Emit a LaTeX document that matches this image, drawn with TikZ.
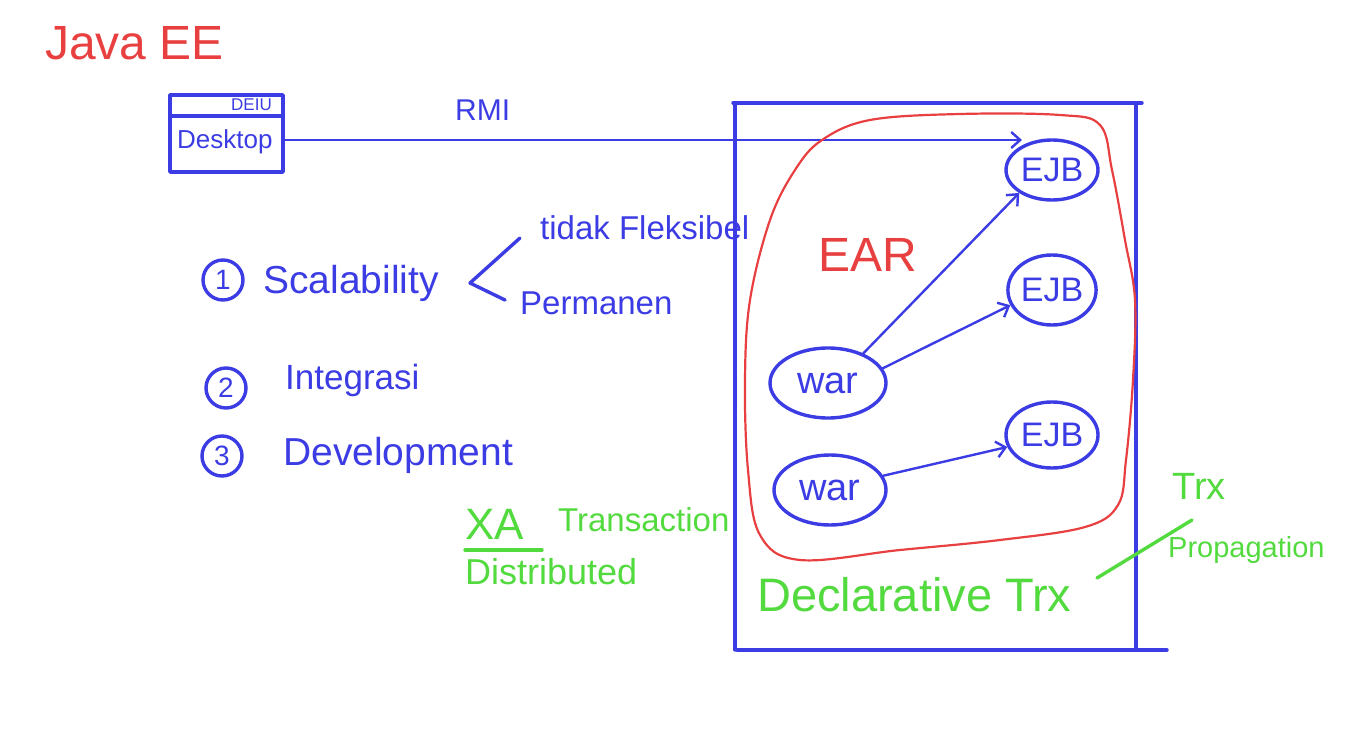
\documentclass[tikz,border=0pt]{standalone}
\usepackage{fontspec}
\setmainfont{Liberation Sans}
\usetikzlibrary{arrows.meta,shapes.geometric}
\definecolor{pblue}{RGB}{60,60,228}
\definecolor{pred}{RGB}{232,64,64}
\definecolor{pgreen}{RGB}{82,218,62}
\tikzset{
  pen/.style={line width=3.4pt,line cap=round,line join=round},
  btext/.style={text=pblue,inner sep=0pt,anchor=west},
  gtext/.style={text=pgreen,inner sep=0pt,anchor=west},
  big/.style={font=\fontsize{39}{41}\selectfont},
  mid/.style={font=\fontsize{33}{35}\selectfont},
  numc/.style={circle,draw=pblue,pen,text=pblue,minimum size=40pt,inner sep=0pt,font=\fontsize{28}{30}\selectfont},
  ejb/.style={ellipse,draw=pblue,pen,text=pblue,inner sep=0pt,font=\fontsize{34}{36}\selectfont},
  arr/.style={line width=2.4pt,line cap=round,draw=pblue,-{Straight Barb[length=9pt,width=16pt]}},
}
\begin{document}
\begin{tikzpicture}[x=1pt,y=-1pt]
\useasboundingbox (0,0) rectangle (1366,746);
% title
\node[text=pred,inner sep=0pt,anchor=west,font=\fontsize{48}{50}\selectfont] (title) at (45,43) {Java EE};
% desktop window
\draw[pblue,pen] (170,95) rectangle (283,172);
\draw[pblue,pen] (172,116) -- (281,116);
\node[btext,font=\fontsize{17}{18}\selectfont] (deiu) at (231,105) {DEIU};
\node[btext,font=\fontsize{26}{28}\selectfont] (desk) at (177,142) {Desktop};
\coordinate (ejbin) at (1022,140);
\draw[arr] (283,140) -- (ejbin);
\node[btext,font=\fontsize{30}{32}\selectfont] (rmi) at (455,110) {RMI};
% container
\draw[pblue,pen] (735,103) -- (735,650);
\draw[pblue,pen] (733,103) -- (1142,103);
\draw[pblue,pen] (1136,103) -- (1136,648);
\draw[pblue,pen] (737,650) -- (1167,650);
% EAR boundary
\draw[pred,line width=2.2pt] plot[smooth cycle,tension=0.6] coordinates {
 (822,140) (870,120) (960,114) (1060,115) (1100,125) (1112,170) (1125,240)
 (1135,300) (1133,380) (1126,460) (1118,505) (1085,527) (1000,540) (900,550)
 (800,560) (760,535) (748,470) (745,380) (750,300) (770,220) (795,170)};
\node[text=pred,inner sep=0pt,anchor=west,font=\fontsize{48}{50}\selectfont] (ear) at (818,255) {EAR};
% EJBs
\node[ejb,minimum width=92pt,minimum height=60pt] (e1) at (1052,170) {EJB};
\node[ejb,minimum width=80pt,minimum height=70pt] (e2) at (1052,290) {EJB};
\node[ejb,minimum width=92pt,minimum height=66pt] (e3) at (1052,435) {EJB};
% wars
\node[ejb,minimum width=116pt,minimum height=70pt,font=\fontsize{38}{40}\selectfont] (w1) at (828,383) {war};
\node[ejb,minimum width=112pt,minimum height=70pt,font=\fontsize{38}{40}\selectfont] (w2) at (830,490) {war};
\draw[arr] (w1.40) -- (e1.215);
\draw[arr] (w1.15) -- (e2.200);
\draw[arr] (w2.15) -- (e3.195);
% list
\node[numc] (n1) at (223,280) {1};
\node[btext,big] (s1) at (263,283) {Scalability};
\node[numc] (n2) at (226,388) {2};
\node[btext,font=\fontsize{35}{37}\selectfont] (s2) at (285,380) {Integrasi};
\node[numc] (n3) at (222,456) {3};
\node[btext,big] (s3) at (283,455) {Development};
\coordinate (bt) at (520,238);
\coordinate (bm) at (470,283);
\coordinate (bb) at (505,300);
\draw[pblue,pen] (bt) -- (bm) -- (bb);
\node[btext,mid] (flex) at (540,228) {tidak Fleksibel};
\node[btext,mid] (perm) at (520,303) {Permanen};
% green notes
\node[gtext,font=\fontsize{44}{46}\selectfont] (xa) at (465,524) {XA};
\node[gtext,mid] (tr) at (558,520) {Transaction};
\draw[pgreen,pen] (465,550) -- (542,550);
\node[gtext,font=\fontsize{36}{38}\selectfont] (dist) at (465,572) {Distributed};
\node[gtext,font=\fontsize{47}{49}\selectfont] (decl) at (757,595) {Declarative Trx};
\node[gtext,font=\fontsize{38}{40}\selectfont] (trx) at (1172,486) {Trx};
\node[gtext,font=\fontsize{29}{31}\selectfont] (prop) at (1168,550) {Propagation};
\draw[pgreen,pen] (1097,578) -- (1192,520);
\end{tikzpicture}
\end{document}
